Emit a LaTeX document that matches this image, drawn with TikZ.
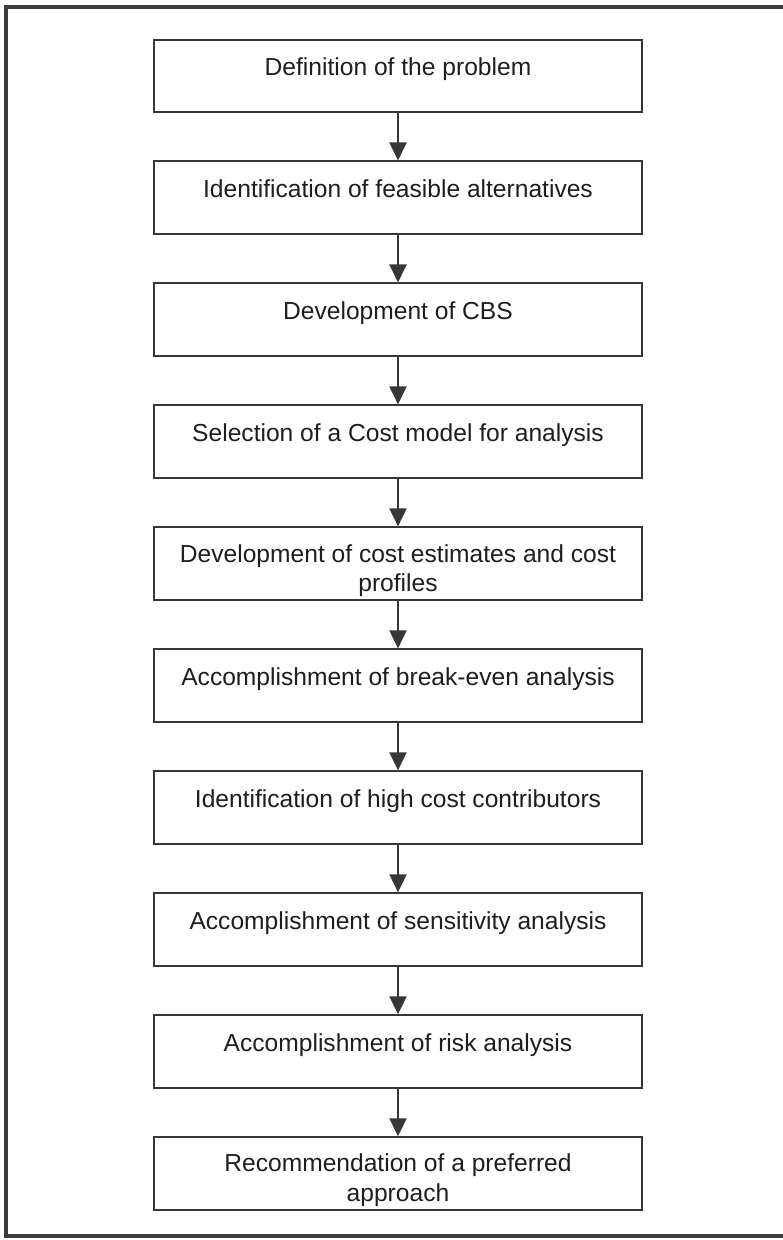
\documentclass[tikz,border=0pt]{standalone}
\usepackage{fontspec}
\setmainfont{Liberation Sans}
\usepackage{xcolor}
\usepackage{tikz}
\usetikzlibrary{arrows.meta,positioning}
\definecolor{boxgray}{RGB}{55,55,55}
\definecolor{framegray}{RGB}{60,60,60}
\definecolor{inkgray}{RGB}{30,30,30}
\tikzset{
  stagebox/.style={
    draw=boxgray,line width=0.04cm,align=center,minimum width=9.76cm,
    minimum height=1.46cm,inner sep=0pt,text height=0.36cm,text depth=0.36cm,
    text=inkgray,font=\fontsize{14}{17}\selectfont
  },
  twostagebox/.style={stagebox,text height=1.18cm,text depth=0.06cm},
  stagearrow/.style={-{Triangle[length=0.36cm,width=0.34cm]},line width=0.04cm,draw=boxgray,fill=boxgray},
  pageframe/.style={draw=framegray,line width=0.08cm}
}
\begin{document}
\begin{tikzpicture}[x=0.02cm,y=-0.02cm,node distance=0.94cm]
  \useasboundingbox (0,0) rectangle (782,1240);
  \draw[pageframe] (784,7) -| (6,1236) -- (784,1236);
  \node[stagebox] (def) at (398,76) {Definition of the problem};
  \node[stagebox,below=of def] (alt) {Identification of feasible alternatives};
  \node[stagebox,below=of alt] (cbs) {Development of CBS};
  \node[stagebox,below=of cbs] (model) {Selection of a Cost model for analysis};
  \node[twostagebox,below=of model] (est) {Development of cost estimates and cost\\profiles};
  \node[stagebox,below=of est] (breakeven) {Accomplishment of break-even analysis};
  \node[stagebox,below=of breakeven] (contrib) {Identification of high cost contributors};
  \node[stagebox,below=of contrib] (sens) {Accomplishment of sensitivity analysis};
  \node[stagebox,below=of sens] (risk) {Accomplishment of risk analysis};
  \node[twostagebox,below=of risk] (recom) {Recommendation of a preferred\\approach};
  \foreach \a/\b in {def/alt,alt/cbs,cbs/model,model/est,est/breakeven,
    breakeven/contrib,contrib/sens,sens/risk,risk/recom}
    \draw[stagearrow] (\a) -- (\b);
\end{tikzpicture}
\end{document}
